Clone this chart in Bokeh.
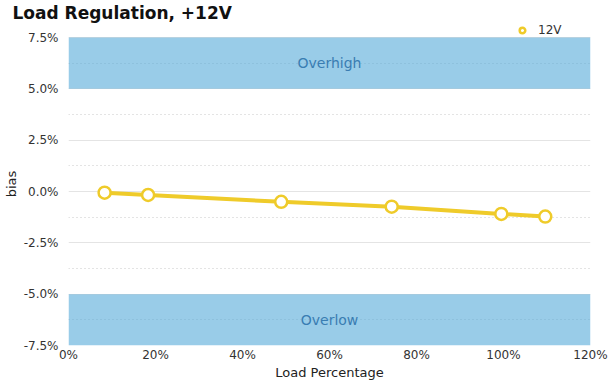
from bokeh.plotting import figure
from bokeh.models import (ColumnDataSource, FixedTicker, PrintfTickFormatter, Legend,
                          LegendItem, Range1d)
from bokeh.embed import file_html
from bokeh.resources import INLINE

# ---- data ----
load_pct = [8.3, 18.3, 48.9, 74.3, 99.5, 109.6]
bias_12v = [-0.06, -0.17, -0.50, -0.74, -1.09, -1.22]
series_name = "12V"
title_text = "Load Regulation, +12V"
x_ticks = [0, 20, 40, 60, 80, 100, 120]
y_ticks = [-7.5, -5.0, -2.5, 0.0, 2.5, 5.0, 7.5]
y_minor = [-6.25, -3.75, -1.25, 1.25, 3.75, 6.25]
zone_names = ["Overhigh", "Overlow"]
zone_bottom = [5.0, -7.5]
zone_top = [7.5, -5.0]
x_min, x_max = 0, 120
y_min, y_max = -7.5, 7.5

FONT = "DejaVu Sans"
YELLOW = "#efcb2a"
W, H = 608, 383
TOP, BOTTOM = 22, 38            # border sizes (px)
BAND_TOP_PX = 37                # where the 7.5% line sits
frame_h = H - TOP - BOTTOM
# extend the range above 7.5% so the legend strip lies inside the frame
y_view_top = y_min + (y_max - y_min) * frame_h / (H - BOTTOM - BAND_TOP_PX)

zone_src = ColumnDataSource(dict(
    name=zone_names,
    bottom=zone_bottom,
    top=zone_top,
    mid=[(b + t) / 2 for b, t in zip(zone_bottom, zone_top)],
    cx=[(x_min + x_max) / 2] * len(zone_names),
))

p = figure(width=W, height=H, output_backend="svg", toolbar_location=None,
           x_range=Range1d(x_min, x_max), y_range=Range1d(y_min, y_view_top),
           min_border_left=59, min_border_right=18, min_border_top=TOP,
           min_border_bottom=BOTTOM)
p.outline_line_color = None
p.background_fill_color = "white"
p.border_fill_color = "white"

p.title.text = title_text
p.title.text_font = FONT
p.title.text_font_size = "17px"
p.title.text_font_style = "bold"
p.title.text_color = "#111111"
p.title.text_line_height = 1.0
p.title.align = "left"
p.title.offset = -56
p.title.standoff = 0

p.xaxis.ticker = FixedTicker(ticks=x_ticks)
p.yaxis.ticker = FixedTicker(ticks=y_ticks, minor_ticks=y_minor)
p.xaxis.formatter = PrintfTickFormatter(format="%d%%")
p.yaxis.formatter = PrintfTickFormatter(format="%.1f%%")
for ax in (p.xaxis, p.yaxis):
    ax.axis_line_color = None
    ax.major_tick_line_color = None
    ax.minor_tick_line_color = None
    ax.major_tick_out = 0
    ax.major_tick_in = 0
    ax.minor_tick_out = 0
    ax.minor_tick_in = 0
    ax.major_label_text_font = FONT
    ax.major_label_text_font_size = "12px"
    ax.major_label_text_color = "#333333"
    ax.axis_label_text_font = FONT
    ax.axis_label_text_font_size = "13px"
    ax.axis_label_text_font_style = "normal"
    ax.axis_label_text_color = "#222222"
p.xaxis.axis_label = "Load Percentage"
p.yaxis.axis_label = "bias"
p.xaxis.major_label_standoff = 2
p.xaxis.axis_label_standoff = 0
p.yaxis.major_label_standoff = 10
p.yaxis.axis_label_standoff = 2

p.xgrid.visible = False
p.ygrid.grid_line_color = "#e4e4e4"
p.ygrid.grid_line_width = 1
p.ygrid.minor_grid_line_color = "#c8c8c8"
p.ygrid.minor_grid_line_dash = "1 3"

p.quad(left=x_min, right=x_max, bottom="bottom", top="top", source=zone_src,
       fill_color="#55aad9", fill_alpha=0.6, line_color=None)
p.text(x="cx", y="mid", text="name", source=zone_src, text_align="center",
       text_baseline="middle", text_color="#3a7db2", text_font_size="14px",
       text_font={"value": FONT})

p.line(load_pct, bias_12v, line_width=4, line_color=YELLOW)
sc = p.scatter(load_pct, bias_12v, size=12, fill_color="white",
               line_color=YELLOW, line_width=2.5)

LEG_H = 14
p.add_layout(Legend(items=[LegendItem(label=series_name, renderers=[sc])],
                    location=(444, frame_h - LEG_H - 1), border_line_color=None,
                    background_fill_alpha=0, padding=0, margin=0, glyph_width=20,
                    glyph_height=LEG_H, label_standoff=6, label_text_font=FONT,
                    label_text_font_size="12px", label_text_color="#333333"),
             "center")

open("out.html", "w").write(file_html(p, INLINE))
